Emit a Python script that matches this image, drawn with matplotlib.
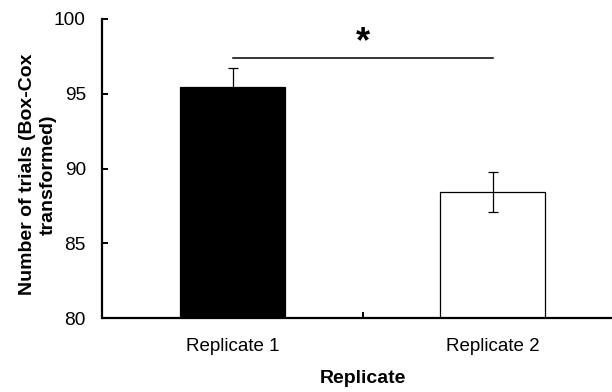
import matplotlib
matplotlib.use('Agg')

import matplotlib.pyplot as plt
from matplotlib.ticker import FixedLocator

plt.rcParams['font.family'] = ['Liberation Sans', 'DejaVu Sans']

# Mean Box-Cox transformed number of trials per replicate, with SE
replicates = ['Replicate 1', 'Replicate 2']
means = [95.47, 88.42]
errors = [1.25, 1.33]
fill_colors = ['black', 'white']

# Significance bracket
sig_level = 97.37
sig_label = '*'

fig = plt.figure(figsize=(6.12, 3.92), dpi=100)
# the x axis runs past the right edge of the figure
ax = fig.add_axes([102.5 / 612, (392 - 318.3) / 392, 520 / 612, 299.3 / 392])

x = range(len(replicates))
ax.bar(x, means, width=0.404, color=fill_colors, edgecolor='black', linewidth=0.9,
       yerr=errors, capsize=3.6, error_kw={'elinewidth': 0.9, 'capthick': 0.9, 'ecolor': 'black'},
       zorder=2)

ax.set_xlim(-0.5, 1.5)
ax.set_ylim(80, 100)
ax.set_yticks([80, 85, 90, 95, 100])
ax.set_xticks(list(x))
ax.set_xticklabels(replicates)
ax.xaxis.set_minor_locator(FixedLocator([0.5]))

ax.tick_params(axis='y', direction='in', length=4, width=1.4, labelsize=13.8, pad=12)
ax.tick_params(axis='x', which='major', length=0, labelsize=13.5, pad=14)
ax.tick_params(axis='x', which='minor', direction='in', length=4, width=1.4)

for side in ['top', 'right']:
    ax.spines[side].set_visible(False)
for side in ['left', 'bottom']:
    ax.spines[side].set_linewidth(1.6)

# significance line and star between the two bars
ax.plot([0, 1], [sig_level, sig_level], color='black', linewidth=1.1, clip_on=False)
ax.text(0.5, sig_level - 0.15, sig_label, ha='center', va='bottom', fontsize=26,
        fontweight='bold')

ax.set_xlabel('Replicate', fontsize=14, fontweight='bold')
ax.xaxis.set_label_coords(0.5, -0.173)
ax.set_ylabel('Number of trials (Box-Cox\ntransformed)', fontsize=14, fontweight='bold',
              linespacing=1.3)
ax.yaxis.set_label_coords(-0.088, 0.48)

plt.savefig('out.png', dpi=100)
